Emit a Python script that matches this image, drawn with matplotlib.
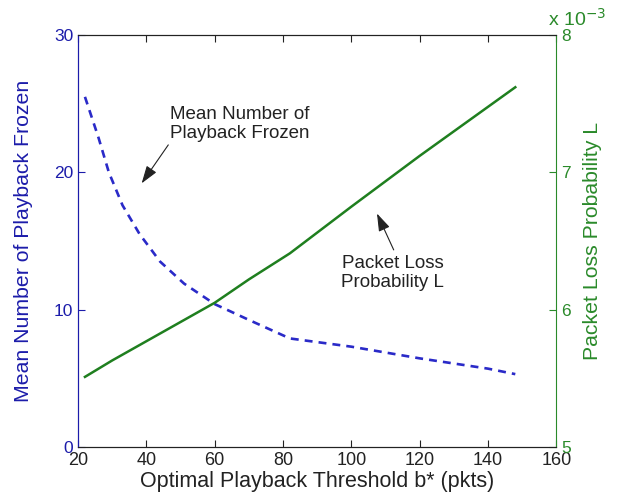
import matplotlib
matplotlib.use("Agg")
import matplotlib.pyplot as plt

plt.rcParams['font.family'] = ['Liberation Sans', 'DejaVu Sans']

# mean number of playback frozen (left axis)
b_frozen = [22, 26, 29, 33, 38, 44, 51, 60, 70, 82, 100, 120, 140, 148]
frozen = [25.5, 22.5, 20.0, 17.6, 15.5, 13.5, 11.9, 10.4, 9.25, 7.9, 7.3, 6.45, 5.7, 5.3]

# packet loss probability (right axis)
b_loss = [22, 30, 40, 50, 60, 70, 82, 100, 120, 148]
loss = [5.51e-3, 5.63e-3, 5.77e-3, 5.91e-3, 6.05e-3, 6.22e-3, 6.41e-3, 6.75e-3, 7.12e-3, 7.62e-3]

blue = '#2a2ac8'
green = '#1f7f1f'
blue_ax = '#1c1caa'
green_ax = '#2a8a2a'
dark = '#222222'

fig = plt.figure(figsize=(6.3, 5.01), dpi=100)
ax = fig.add_axes([0.124, 0.108, 0.759, 0.822])
ax2 = ax.twinx()

ax.plot(b_frozen, frozen, '--', color=blue, lw=1.9, dashes=(3, 2.3))
ax2.plot(b_loss, [v * 1e3 for v in loss], '-', color=green, lw=1.8)

ax.set_xlim(20, 160)
ax.set_ylim(0, 30)
ax2.set_ylim(5, 8)
ax.set_xticks(range(20, 161, 20))
ax.set_yticks([0, 10, 20, 30])
ax2.set_yticks([5, 6, 7, 8])

ax.tick_params(axis='x', direction='in', top=True, labelsize=13, colors=dark, length=5, pad=4)
ax.tick_params(axis='y', direction='in', labelsize=12.5, colors=blue_ax, length=5)
ax2.tick_params(axis='y', direction='in', labelsize=12.5, colors=green_ax, length=5)

ax.spines['left'].set_color(blue_ax)
ax2.spines['left'].set_color(blue_ax)
ax2.spines['right'].set_color(green_ax)
ax.spines['right'].set_visible(False)
for a in (ax, ax2):
    a.spines['top'].set_color(dark)
    a.spines['bottom'].set_color(dark)

ax.set_xlabel('Optimal Playback Threshold b* (pkts)', fontsize=15.5, color=dark, labelpad=1)
ax.set_ylabel('Mean Number of Playback Frozen', fontsize=15.3, color=blue_ax)
ax2.set_ylabel('Packet Loss Probability L', fontsize=15.3, color=green_ax)
ax.yaxis.set_label_coords(-0.094, 0.5)
ax2.yaxis.set_label_coords(1.056, 0.5)

ax2.text(0.983, 1.012, r'x 10$^{-3}$', transform=ax2.transAxes, fontsize=14,
         color=green_ax, ha='left', va='bottom')

arrow = dict(arrowstyle='-|>,head_length=0.9,head_width=0.3', color=dark, lw=0.8,
             shrinkA=0, shrinkB=0, mutation_scale=12)

ax.text(67.4, 23.5, 'Mean Number of\nPlayback Frozen', ha='center', va='center',
        fontsize=13.5, color=dark, linespacing=1.15)
ax.annotate('', xy=(38.6, 19.2), xytext=(46.4, 22.0), arrowprops=arrow)

ax.text(112.1, 12.7, 'Packet Loss\nProbability L', ha='center', va='center',
        fontsize=13.5, color=dark, linespacing=1.15)
ax.annotate('', xy=(107.5, 17.0), xytext=(112.4, 14.35), arrowprops=arrow)

fig.savefig('out.png', dpi=100)
